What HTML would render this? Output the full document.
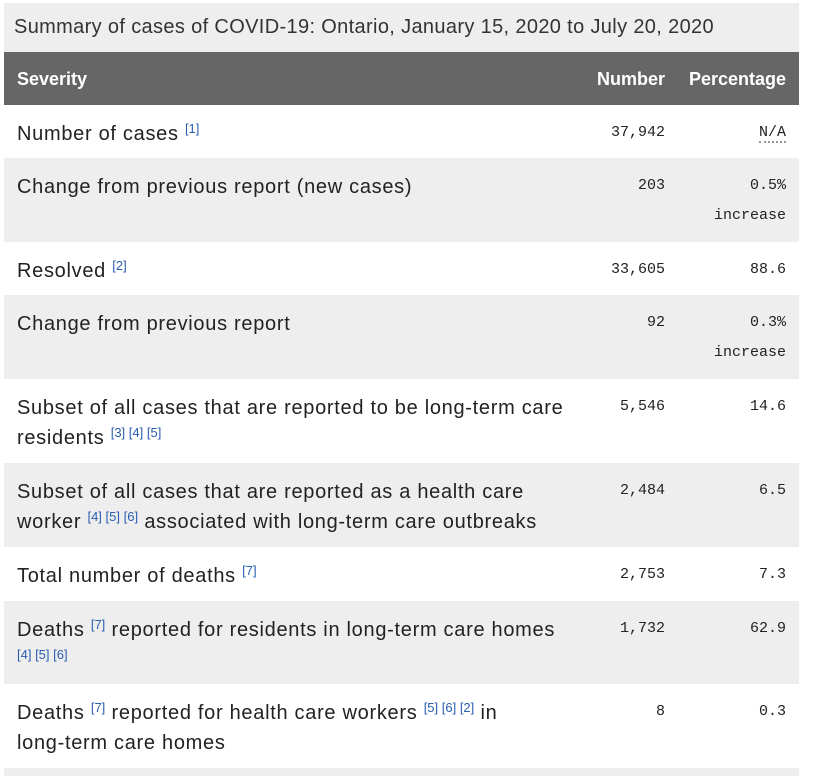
<!DOCTYPE html>
<html><head><meta charset="utf-8"><style>
body{margin:0;width:814px;height:780px;background:#fff;font-family:"Liberation Sans",sans-serif;position:relative;overflow:hidden}
.r{position:absolute;left:4px;width:795px;box-sizing:border-box}
.g{background:#eeeeee}
.c1{position:absolute;left:13px;top:14px;width:600px;font-size:20px;letter-spacing:0.7px;line-height:30px;color:#222;white-space:nowrap}
.n{position:absolute;right:134px;top:13px;font-family:"Liberation Mono",monospace;font-size:15px;line-height:30px;color:#222;text-align:right}
.p{position:absolute;right:13px;top:13px;font-family:"Liberation Mono",monospace;font-size:15px;line-height:30px;color:#222;text-align:right}
sup{font-size:13px;letter-spacing:0;color:#2a5db0;vertical-align:7px;line-height:0}
.hd{font-weight:bold;color:#fff;font-size:18px;position:absolute;top:14px;line-height:26px}
</style></head><body>
<div class="r g" style="top:3px;height:49px"><div style="position:absolute;left:10px;top:11px;font-size:20px;letter-spacing:0.35px;color:#333;line-height:26px;white-space:nowrap">Summary of cases of COVID-19: Ontario, January 15, 2020 to July 20, 2020</div></div>
<div class="r" style="top:52px;height:53px;background:#666">
<span class="hd" style="left:13px">Severity</span><span class="hd" style="right:134px">Number</span><span class="hd" style="right:13px">Percentage</span></div>

<div class="r" style="top:105px;height:53px"><div class="c1">Number of cases <sup>[1]</sup></div><div class="n">37,942</div><div class="p"><span style="border-bottom:2px dotted #999">N/A</span></div></div>
<div class="r g" style="top:158px;height:84px"><div class="c1">Change from previous report (new cases)</div><div class="n">203</div><div class="p">0.5%<br>increase</div></div>
<div class="r" style="top:242px;height:53px"><div class="c1">Resolved <sup>[2]</sup></div><div class="n">33,605</div><div class="p">88.6</div></div>
<div class="r g" style="top:295px;height:84px"><div class="c1">Change from previous report</div><div class="n">92</div><div class="p">0.3%<br>increase</div></div>
<div class="r" style="top:379px;height:84px"><div class="c1">Subset of all cases that are reported to be long-term care<br>residents <sup>[3] [4] [5]</sup></div><div class="n">5,546</div><div class="p">14.6</div></div>
<div class="r g" style="top:463px;height:84px"><div class="c1">Subset of all cases that are reported as a health care<br>worker <sup>[4] [5] [6]</sup> associated with long-term care outbreaks</div><div class="n">2,484</div><div class="p">6.5</div></div>
<div class="r" style="top:547px;height:54px"><div class="c1">Total number of deaths <sup>[7]</sup></div><div class="n">2,753</div><div class="p">7.3</div></div>
<div class="r g" style="top:601px;height:83px"><div class="c1">Deaths <sup>[7]</sup> reported for residents in long-term care homes<br><sup>[4] [5] [6]</sup></div><div class="n">1,732</div><div class="p">62.9</div></div>
<div class="r" style="top:684px;height:84px"><div class="c1">Deaths <sup>[7]</sup> reported for health care workers <sup>[5] [6] [2]</sup> in<br>long-term care homes</div><div class="n">8</div><div class="p">0.3</div></div>
<div class="r g" style="top:768px;height:8px"></div>
</body></html>
